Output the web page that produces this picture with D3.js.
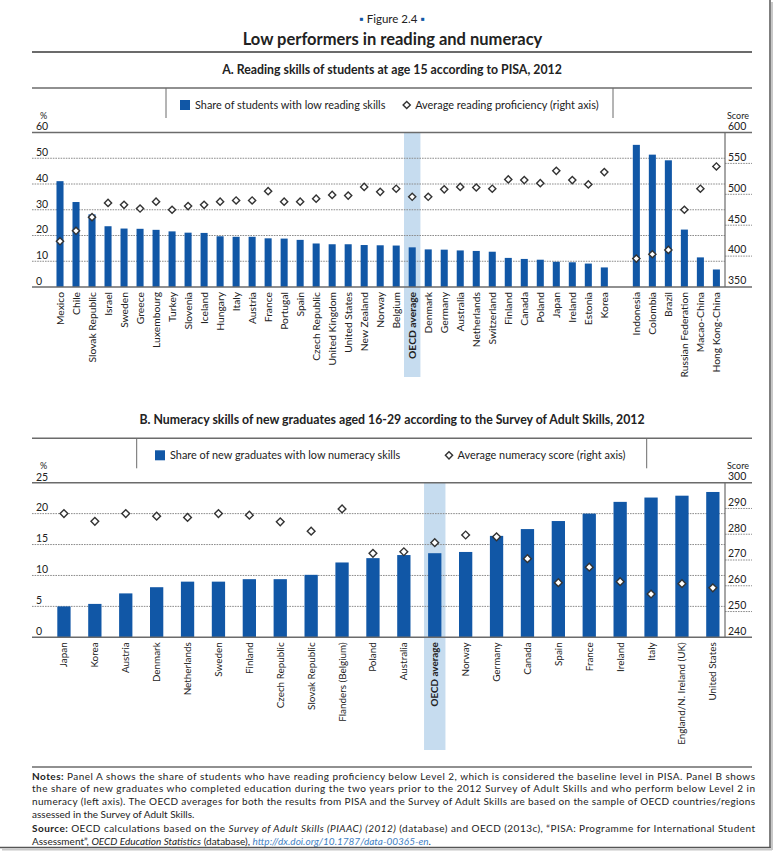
<!DOCTYPE html>
<html>
<head>
<meta charset="utf-8">
<script src="https://cdn.jsdelivr.net/npm/d3@7"></script>
<style>
  body { margin: 0; background: #fff; }
  text { font-family: Lato, "Open Sans", sans-serif; fill: #222; }
</style>
</head>
<body>
<script>
// Panel A: PISA 2012, share of low performers (%) and mean reading score
let oecdA = ["Mexico", "Chile", "Slovak Republic", "Israel", "Sweden", "Greece", "Luxembourg", "Turkey",
    "Slovenia", "Iceland", "Hungary", "Italy", "Austria", "France", "Portugal", "Spain", "Czech Republic",
    "United Kingdom", "United States", "New Zealand", "Norway", "Belgium", "OECD average", "Denmark",
    "Germany", "Australia", "Netherlands", "Switzerland", "Finland", "Canada", "Poland", "Japan",
    "Ireland", "Estonia", "Korea"];
let partnersA = ["Indonesia", "Colombia", "Brazil", "Russian Federation", "Macao-China", "Hong Kong-China"];
let lowReadingA = [41.1, 33.0, 28.2, 23.6, 22.7, 22.6, 22.2, 21.6, 21.1, 21.0, 19.7, 19.5, 19.5, 18.9,
    18.8, 18.3, 16.9, 16.6, 16.6, 16.3, 16.2, 16.1, 15.4, 14.6, 14.5, 14.2, 14.0, 13.7, 11.3, 10.9, 10.6,
    9.8, 9.6, 9.1, 7.6,
    55.2, 51.4, 49.2, 22.3, 11.5, 6.8];
let readingScoreA = [424, 441, 463, 486, 483, 477, 488, 475, 481, 483, 488, 490, 490, 505, 488, 488, 493,
    499, 498, 512, 504, 509, 496, 496, 508, 512, 511, 509, 524, 523, 518, 538, 523, 516, 536,
    396, 403, 410, 475, 509, 545];
let leftTicksA = [0, 10, 20, 30, 40, 50, 60];
let rightTicksA = [350, 400, 450, 500, 550, 600];

// Panel B: Survey of Adult Skills 2012, new graduates
let countriesB = ["Japan", "Korea", "Austria", "Denmark", "Netherlands", "Sweden", "Finland",
    "Czech Republic", "Slovak Republic", "Flanders (Belgium)", "Poland", "Australia", "OECD average",
    "Norway", "Germany", "Canada", "Spain", "France", "Ireland", "Italy", "England/N. Ireland (UK)",
    "United States"];
let lowNumeracyB = [5.0, 5.4, 7.1, 8.1, 9.0, 9.0, 9.4, 9.4, 10.1, 12.1, 12.8, 13.3, 13.6, 13.8, 16.4,
    17.5, 18.8, 20.0, 21.9, 22.6, 22.9, 23.5];
let numeracyScoreB = [288, 285, 288, 287, 286.5, 288, 287.4, 284.8, 281.2, 289.8, 272.6, 273.2, 276.7,
    279.7, 279, 270.5, 261.2, 267.2, 261.6, 256.8, 260.8, 259.2];
let leftTicksB = [0, 5, 10, 15, 20, 25];
let rightTicksB = [240, 250, 260, 270, 280, 290, 300];

let svgWidth = 777;
let svgHeight = 862;
let blue = "#1157a6";
let ruleColor = "#6b6b6b";
let plotLeft = 32;
let axisRight = 725;
let ruleRight = 752;

let svg = d3.select("body").append("svg")
    .attr("width", svgWidth)
    .attr("height", svgHeight);

// horizontal rule helper
function rule(y, w) {
    svg.append("line")
        .attr("x1", plotLeft).attr("x2", ruleRight)
        .attr("y1", y).attr("y2", y)
        .attr("stroke", ruleColor).attr("stroke-width", w || 1.5);
}

function diamond(size) {
    return d3.symbol().type(d3.symbolSquare).size(size)();
}

// Title block
let fig = svg.append("text")
    .attr("x", 392).attr("y", 22.5)
    .attr("text-anchor", "middle")
    .attr("font-size", "11.5px");
fig.append("tspan").style("fill", blue).text("\u25AA ");
fig.append("tspan").text("Figure 2.4");
fig.append("tspan").style("fill", blue).text(" \u25AA");

svg.append("text")
    .attr("x", 392.5).attr("y", 45)
    .attr("text-anchor", "middle")
    .attr("font-family", "'Open Sans', sans-serif")
    .attr("font-weight", "bold")
    .attr("font-size", "16.5px")
    .text("Low performers in reading and numeracy");

rule(52, 2);

function drawPanel(p) {
    let g = svg.append("g");

    let x = d3.scaleBand()
        .domain(p.slots)
        .range(p.xRange)
        .paddingInner(p.pad)
        .paddingOuter(p.pad / 2);
    let yLeft = d3.scaleLinear().domain(d3.extent(p.leftTicks)).range([p.bottom, p.top]);
    let yRight = d3.scaleLinear().domain(d3.extent(p.rightTicks)).range([p.bottom, p.top]);
    let cx = d => x(d) + x.bandwidth() / 2;

    // subtitle and legend strip
    g.append("text")
        .attr("x", 392).attr("y", p.subY)
        .attr("text-anchor", "middle")
        .attr("font-weight", "bold")
        .attr("font-size", "12.3px")
        .text(p.subtitle);
    rule(p.legendTop, 1.5);
    p.dividers.forEach(dx => {
        g.append("line")
            .attr("x1", dx).attr("x2", dx)
            .attr("y1", p.legendTop).attr("y2", p.legendTop + 30)
            .attr("stroke", ruleColor).attr("stroke-width", 1);
    });
    let ly = p.legendTop + 17;
    g.append("rect")
        .attr("x", p.legBar).attr("y", ly - 5)
        .attr("width", 10).attr("height", 10)
        .attr("fill", blue);
    g.append("text")
        .attr("x", p.legBar + 15).attr("y", ly + 4)
        .attr("font-size", "10.9px")
        .text(p.barLabel);
    g.append("path")
        .attr("d", diamond(26))
        .attr("transform", `translate(${p.legDot}, ${ly}) rotate(45)`)
        .attr("fill", "#fff").attr("stroke", "#333").attr("stroke-width", 1.4);
    g.append("text")
        .attr("x", p.legDot + 8.5).attr("y", ly + 4)
        .attr("font-size", "10.9px")
        .text(p.dotLabel);

    // OECD average highlight
    g.append("rect")
        .attr("x", cx("OECD average") - p.hlWidth / 2)
        .attr("y", p.top)
        .attr("width", p.hlWidth)
        .attr("height", p.hlBottom - p.top)
        .attr("fill", "#c6dcef");

    // left gridlines across the plot
    g.selectAll(".grid")
        .data(p.leftTicks.slice(1, -1))
        .enter().append("line")
        .attr("x1", plotLeft).attr("x2", axisRight)
        .attr("y1", d => yLeft(d)).attr("y2", d => yLeft(d))
        .attr("stroke", "#8c8c8c").attr("stroke-width", 1)
        .attr("stroke-dasharray", "1.6,1");

    // right-axis dotted ticks
    g.selectAll(".rtick")
        .data(p.rightTicks.slice(1, -1))
        .enter().append("line")
        .attr("x1", axisRight).attr("x2", ruleRight)
        .attr("y1", d => yRight(d)).attr("y2", d => yRight(d))
        .attr("stroke", "#8c8c8c").attr("stroke-width", 1)
        .attr("stroke-dasharray", "1.6,1");

    let rows = p.names.map((n, i) => ({ name: n, bar: p.bars[i], score: p.scores[i] }));

    // bars
    g.selectAll(".bar")
        .data(rows)
        .enter().append("rect")
        .attr("x", d => x(d.name))
        .attr("y", d => yLeft(d.bar))
        .attr("width", x.bandwidth())
        .attr("height", d => yLeft(0) - yLeft(d.bar))
        .attr("fill", blue);

    // frame lines: top, bottom, right axis
    [p.top, p.bottom].forEach(yy => {
        g.append("line")
            .attr("x1", plotLeft).attr("x2", ruleRight)
            .attr("y1", yy).attr("y2", yy)
            .attr("stroke", ruleColor).attr("stroke-width", 1.5);
    });
    g.append("line")
        .attr("x1", axisRight).attr("x2", axisRight)
        .attr("y1", p.top).attr("y2", p.bottom)
        .attr("stroke", ruleColor).attr("stroke-width", 1.2);

    // markers
    g.selectAll(".dot")
        .data(rows)
        .enter().append("path")
        .attr("d", diamond(p.dotSize))
        .attr("transform", d => `translate(${cx(d.name)}, ${yRight(d.score)}) rotate(45)`)
        .attr("fill", "#fff").attr("stroke", "#333").attr("stroke-width", 1.4);

    // left axis labels
    let leftAxis = g.append("g")
        .attr("transform", `translate(${plotLeft + 1}, 0)`)
        .call(d3.axisRight(yLeft).tickValues(p.leftTicks).tickSize(0).tickPadding(3));
    leftAxis.select(".domain").remove();
    leftAxis.selectAll("text")
        .attr("dy", "-0.25em")
        .attr("font-size", "10.5px")
        .attr("font-family", "Lato, sans-serif")
        .attr("fill", "#333");

    // right axis labels
    let rightAxis = g.append("g")
        .attr("transform", `translate(${axisRight}, 0)`)
        .call(d3.axisRight(yRight).tickValues(p.rightTicks).tickSize(0).tickPadding(3));
    rightAxis.select(".domain").remove();
    rightAxis.selectAll("text")
        .attr("dy", "-0.3em")
        .attr("font-size", "10.5px")
        .attr("font-family", "Lato, sans-serif")
        .attr("fill", "#333");

    g.append("text")
        .attr("x", plotLeft + 8).attr("y", p.top - 14)
        .attr("font-size", "9px")
        .text("%");
    g.append("text")
        .attr("x", axisRight + 2).attr("y", p.top - 14)
        .attr("font-size", "9px")
        .text("Score");

    // category labels
    let xAxis = g.append("g")
        .attr("transform", `translate(0, ${p.bottom})`)
        .call(d3.axisBottom(x).tickSize(0).tickFormat(d => d.startsWith("_") ? "" : d));
    xAxis.select(".domain").remove();
    xAxis.selectAll("text")
        .attr("transform", "rotate(-90)")
        .attr("text-anchor", "end")
        .attr("x", -5).attr("y", 0)
        .attr("dy", "0.35em")
        .attr("font-size", p.labelSize)
        .attr("font-family", "Lato, sans-serif")
        .attr("font-weight", d => d === "OECD average" ? "bold" : "normal")
        .attr("fill", "#222");
}

drawPanel({
    subtitle: "A. Reading skills of students at age 15 according to PISA, 2012",
    subY: 73.5, legendTop: 88, dividers: [166, 613],
    legBar: 180, legDot: 406.7,
    barLabel: "Share of students with low reading skills",
    dotLabel: "Average reading proficiency (right axis)",
    names: oecdA.concat(partnersA),
    slots: oecdA.concat(["_gap"], partnersA),
    bars: lowReadingA, scores: readingScoreA,
    leftTicks: leftTicksA, rightTicks: rightTicksA,
    xRange: [52, 724.4], pad: 0.56,
    top: 132.5, bottom: 287,
    hlWidth: 16.4, hlBottom: 377,
    dotSize: 26, labelSize: "10.3px"
});

drawPanel({
    subtitle: "B. Numeracy skills of new graduates aged 16-29 according to the Survey of Adult Skills, 2012",
    subY: 423.5, legendTop: 438.3, dividers: [136.7, 646.7],
    legBar: 155, legDot: 449,
    barLabel: "Share of new graduates with low numeracy skills",
    dotLabel: "Average numeracy score (right axis)",
    names: countriesB, slots: countriesB,
    bars: lowNumeracyB, scores: numeracyScoreB,
    leftTicks: leftTicksB, rightTicks: rightTicksB,
    xRange: [48.5, 728.3], pad: 0.57,
    top: 482.7, bottom: 637.3,
    hlWidth: 21.4, hlBottom: 750,
    dotSize: 30, labelSize: "9.9px"
});

rule(767, 1.5);

// Notes and source
let noteLines = [
    { y: 779.5, fit: true, parts: [["Notes: ", "bold"], ["Panel A shows the share of students who have reading proficiency below Level 2, which is considered the baseline level in PISA. Panel B shows"]] },
    { y: 792.2, fit: true, parts: [["the share of new graduates who completed education during the two years prior to the 2012 Survey of Adult Skills and who perform below Level 2 in"]] },
    { y: 805, fit: true, parts: [["numeracy (left axis). The OECD averages for both the results from PISA and the Survey of Adult Skills are based on the sample of OECD countries/regions"]] },
    { y: 817.6, fit: false, parts: [["assessed in the Survey of Adult Skills."]] },
    { y: 832, fit: true, parts: [["Source: ", "bold"], ["OECD calculations based on the "], ["Survey of Adult Skills (PIAAC) (2012)", "italic"], [" (database) and OECD (2013c), \u201CPISA: Programme for International Student"]] },
    { y: 844.5, fit: false, parts: [["Assessment\u201D, "], ["OECD Education Statistics", "italic"], [" (database), "], ["http://dx.doi.org/10.1787/data-00365-en", "link"], ["."]] }
];

noteLines.forEach(line => {
    let t = svg.append("text")
        .attr("x", plotLeft).attr("y", line.y)
        .attr("font-size", "10px");
    if (line.fit) {
        t.attr("textLength", 723).attr("lengthAdjust", "spacing");
    }
    line.parts.forEach(part => {
        let s = t.append("tspan").text(part[0]);
        if (part[1] === "bold") s.attr("font-weight", "bold");
        if (part[1] === "italic") s.attr("font-style", "italic");
        if (part[1] === "link") s.attr("font-style", "italic").style("fill", "#3f7fc4");
    });
});

// page shadow edge on right and bottom
svg.append("line")
    .attr("x1", 770).attr("x2", 770).attr("y1", 0).attr("y2", 848)
    .attr("stroke", "#555").attr("stroke-width", 1.5);
svg.append("line")
    .attr("x1", 0).attr("x2", 770.7).attr("y1", 847.5).attr("y2", 847.5)
    .attr("stroke", "#555").attr("stroke-width", 1.5);
svg.append("line")
    .attr("x1", 772).attr("x2", 772).attr("y1", 2).attr("y2", 850)
    .attr("stroke", "#c8c8c8").attr("stroke-width", 2);
svg.append("line")
    .attr("x1", 2).attr("x2", 772).attr("y1", 849.5).attr("y2", 849.5)
    .attr("stroke", "#c8c8c8").attr("stroke-width", 2);
</script>
</body>
</html>
